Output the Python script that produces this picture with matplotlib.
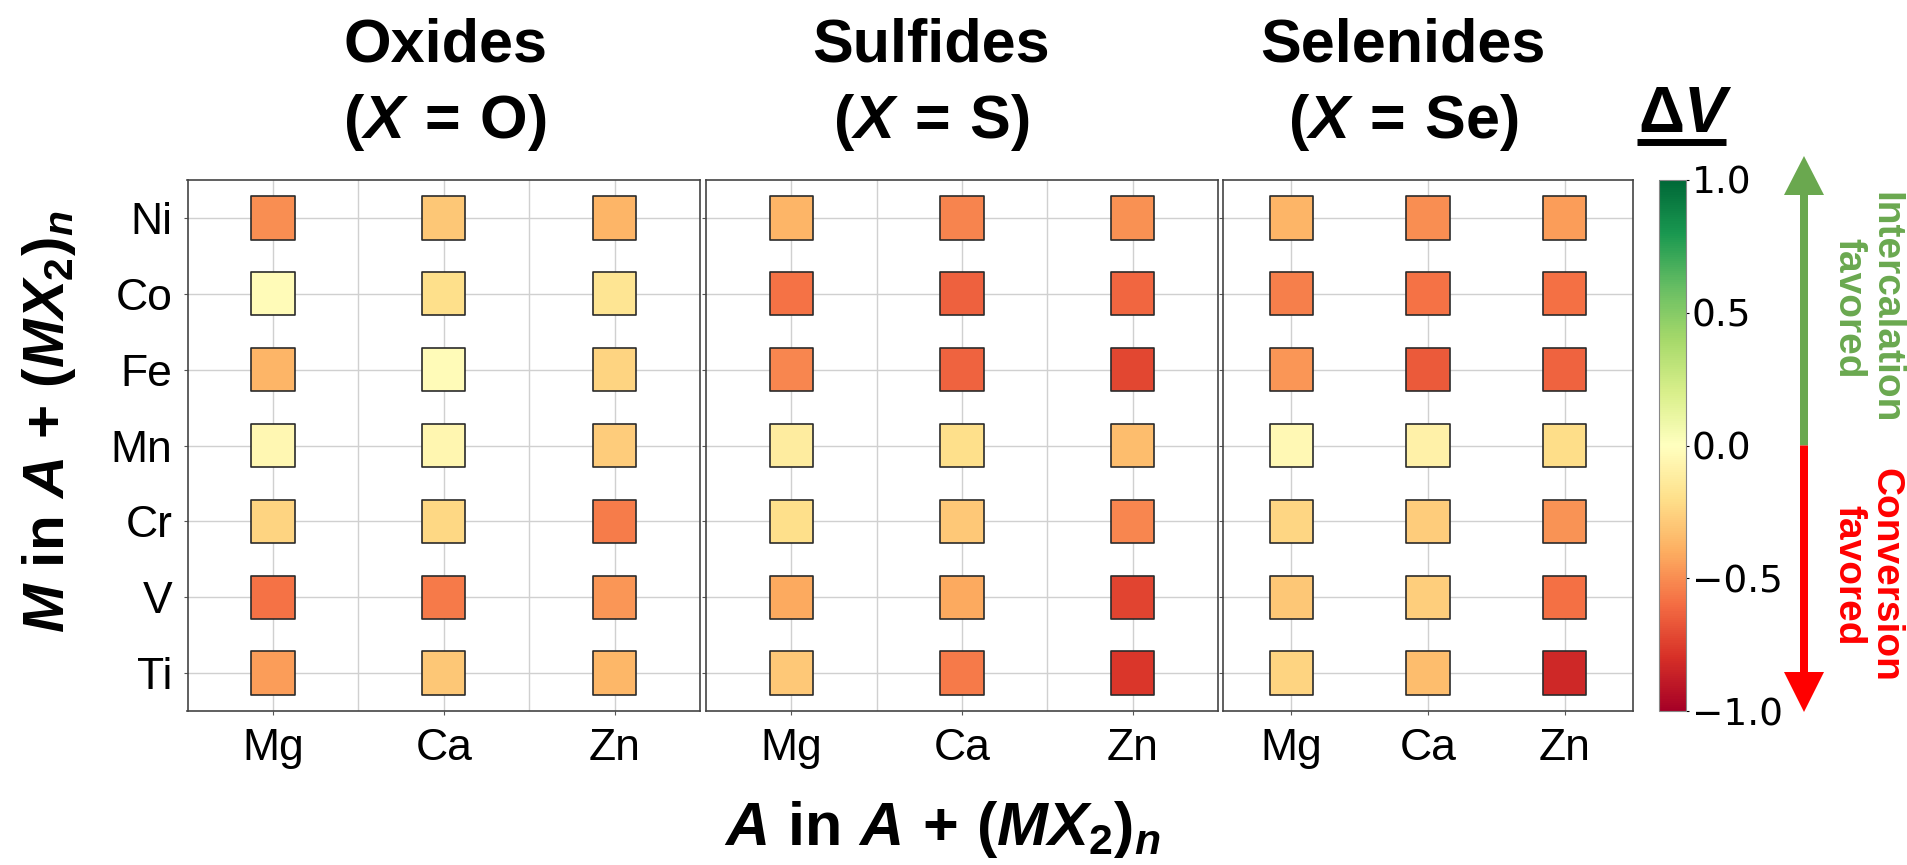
import numpy as np
import matplotlib
matplotlib.use("Agg")
import matplotlib.pyplot as plt
from matplotlib.lines import Line2D

plt.rcParams["font.family"] = ["Liberation Sans", "DejaVu Sans"]
plt.rcParams["mathtext.fontset"] = "custom"
plt.rcParams["mathtext.rm"] = "Liberation Sans:bold"
plt.rcParams["mathtext.bf"] = "Liberation Sans:bold"
plt.rcParams["mathtext.it"] = "Liberation Sans:italic:bold"
plt.rcParams["mathtext.sf"] = "Liberation Sans:bold"

# metals M (rows, top to bottom) and ions A (columns)
metals = ["Ni", "Co", "Fe", "Mn", "Cr", "V", "Ti"]
ions = ["Mg", "Ca", "Zn"]

# delta V for each (M, A) pair
oxides = [
    [-0.50, -0.30, -0.37],
    [-0.03, -0.20, -0.17],
    [-0.37, -0.03, -0.25],
    [-0.05, -0.06, -0.28],
    [-0.25, -0.23, -0.55],
    [-0.58, -0.56, -0.47],
    [-0.45, -0.30, -0.36],
]
sulfides = [
    [-0.37, -0.53, -0.49],
    [-0.58, -0.64, -0.62],
    [-0.52, -0.63, -0.72],
    [-0.12, -0.20, -0.34],
    [-0.20, -0.29, -0.52],
    [-0.41, -0.41, -0.73],
    [-0.29, -0.56, -0.78],
]
selenides = [
    [-0.37, -0.50, -0.45],
    [-0.54, -0.58, -0.59],
    [-0.47, -0.66, -0.63],
    [-0.04, -0.09, -0.21],
    [-0.24, -0.28, -0.48],
    [-0.30, -0.27, -0.59],
    [-0.25, -0.34, -0.83],
]

panel_names = ["Oxides", "Sulfides", "Selenides"]
panel_x = ["O", "S", "Se"]
panel_data = [oxides, sulfides, selenides]

W, H = 1907, 865
fig = plt.figure(figsize=(W / 100, H / 100), dpi=100)


def fbox(x0, y0, x1, y1):
    # pixel box (top-left origin) -> figure fraction rect
    return [x0 / W, 1 - y1 / H, (x1 - x0) / W, (y1 - y0) / H]


boxes = [(187.5, 180, 700, 711), (706, 180, 1218, 711), (1223, 180, 1633, 711)]
title_cx = [445, 931, 1403]

cmap = plt.get_cmap("RdYlGn")
xx, yy = np.meshgrid(np.arange(len(ions)), np.arange(len(metals)))

for i, (box, data) in enumerate(zip(boxes, panel_data)):
    ax = fig.add_axes(fbox(*box))
    vals = np.array(data)
    sc = ax.scatter(xx.ravel(), yy.ravel(), c=vals.ravel(), cmap=cmap,
                    vmin=-1, vmax=1, marker="s", s=970,
                    edgecolors="#2b2b2b", linewidths=1.2, zorder=3)
    ax.set_xlim(-0.5, len(ions) - 0.5)
    ax.set_ylim(len(metals) - 0.5, -0.5)
    ax.set_xticks(range(len(ions)))
    ax.set_xticklabels(ions, fontsize=32)
    ax.set_yticks(range(len(metals)))
    if i == 0:
        ax.set_yticklabels(metals, fontsize=32)
    else:
        ax.set_yticklabels([])
    if i < 2:
        ax.set_xticks([0.5, 1.5], minor=True)
        ax.grid(True, which="minor", axis="x", color="#d0d0d0", lw=1.0)
        ax.tick_params(which="minor", length=0)
    ax.grid(True, which="major", color="#d0d0d0", lw=1.0, zorder=0)
    ax.set_axisbelow(True)
    ax.tick_params(which="major", length=3, width=0.8, color="#555555")
    ax.tick_params(axis="y", pad=8)
    ax.tick_params(axis="x", pad=9)
    for sp in ax.spines.values():
        sp.set_color("#444444")
        sp.set_linewidth(1.2)

    # two-line panel heading
    fig.text(title_cx[i] / W, 1 - 62 / H, panel_names[i], fontsize=44,
             fontweight="bold", ha="center", va="baseline")
    fig.text(title_cx[i] / W, 1 - 138 / H,
             r"$(X\,=\,\mathrm{" + panel_x[i] + "})$", fontsize=44,
             ha="center", va="baseline")

# colorbar
cax = fig.add_axes(fbox(1659, 180, 1686, 711))
cb = fig.colorbar(sc, cax=cax, ticks=[-1.0, -0.5, 0.0, 0.5, 1.0])
cb.outline.set_edgecolor("#888888")
cb.outline.set_linewidth(0.8)
cax.tick_params(length=2, width=0.8, pad=2, labelsize=27)
for t in cax.get_yticklabels():
    t.set_fontfamily("DejaVu Sans")

# colorbar heading with underline
fig.text(1685 / W, 1 - 132 / H, r"$\Delta V$", fontsize=46,
         ha="center", va="baseline")
fig.add_artist(Line2D([1637 / W, 1726 / W], [1 - 141.5 / H, 1 - 141.5 / H],
                      color="black", lw=5, solid_capstyle="butt"))

# direction arrows beside the colorbar (pixel units)
aax = fig.add_axes(fbox(1770, 150, 1840, 720))
aax.set_xlim(1770, 1840)
aax.set_ylim(720, 150)
aax.axis("off")
zero_y = 180 + (711 - 180) / 2
aax.arrow(1804, zero_y, 0, 156 - zero_y, width=8, head_width=40,
          head_length=39, length_includes_head=True, color="#6aa84f", lw=0)
aax.arrow(1804, zero_y, 0, 712 - zero_y, width=8, head_width=40,
          head_length=40, length_includes_head=True, color="#ff0000", lw=0)

fig.text(1867 / W, 1 - 308 / H, "Intercalation\nfavored", rotation=-90,
         fontsize=28, fontweight="bold", color="#6aa84f", ha="center",
         va="center", multialignment="center", linespacing=1.05)
fig.text(1867 / W, 1 - 575 / H, "Conversion\nfavored", rotation=-90,
         fontsize=28, fontweight="bold", color="#ff0000", ha="center",
         va="center", multialignment="center", linespacing=1.05)

# axis labels
fig.text(49 / W, 1 - 422 / H, r"$M\ \mathrm{in}\ A\ {+}\ (MX_2)_n$",
         rotation=90, fontsize=42, ha="center", va="center")
fig.text(942 / W, 1 - 830 / H, r"$A\ \mathrm{in}\ A\ {+}\ (MX_2)_n$",
         fontsize=44, ha="center", va="center")

fig.savefig("out.png", dpi=100)
